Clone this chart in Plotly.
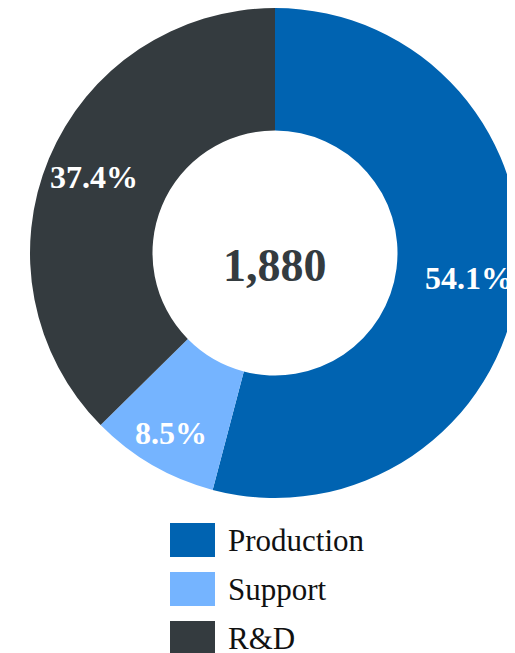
import math
import plotly.graph_objects as go

# ---- data ----
categories = ["Production", "Support", "R&D"]
values = [1017, 160, 703]
colors = ["#0063b1", "#75b4ff", "#343b3f"]
total_label = f"{sum(values):,}"

# ---- style ----
W, H = 522, 653
FONT = "Liberation Serif"
OFF = 8  # page body margin compensation
label_radius = [0.80, 0.85, 0.80]  # label distance from centre, fraction of outer radius

# pie geometry in figure pixels (center and radius)
cx, cy, R = 275 - OFF, 253 - OFF, 245

fig = go.Figure()
fig.add_trace(go.Pie(
    labels=categories,
    values=values,
    hole=0.5,
    sort=False,
    direction="clockwise",
    rotation=0,
    marker=dict(colors=colors, line=dict(width=0)),
    textinfo="none",
    showlegend=False,
    hoverinfo="label+value+percent",
    domain=dict(x=[(cx - R) / W, (cx + R) / W],
                y=[max(0, 1 - (cy + R) / H), min(1, 1 - (cy - R) / H)]),
))

# percentage labels, placed at each slice's mid-angle
total = sum(values)
cum = 0
for v, rf in zip(values, label_radius):
    mid = (cum + v / 2) / total * 2 * math.pi
    cum += v
    px = cx + rf * R * math.sin(mid)
    py = cy - rf * R * math.cos(mid)
    fig.add_annotation(
        text=f"{v / total:.1%}", x=px / W, y=1 - py / H,
        xref="paper", yref="paper", showarrow=False,
        xanchor="center", yanchor="middle",
        font=dict(family=FONT, size=32, color="white", weight="bold"),
    )

# center total
fig.add_annotation(
    text=total_label, x=cx / W, y=1 - cy / H, xref="paper", yref="paper",
    showarrow=False, yshift=-12,
    font=dict(family=FONT, size=46, color="#343b3f", weight="bold"),
)

# custom legend (large swatches)
sw_x0, sw_x1 = 170 - OFF, 215 - OFF
sw_h = 34
row_top0 = 523 - OFF
row_step = 49
text_x = 226 - OFF
for i, (cat, col) in enumerate(zip(categories, colors)):
    top = row_top0 + i * row_step
    fig.add_shape(type="rect", xref="paper", yref="paper",
                  x0=sw_x0 / W, x1=sw_x1 / W,
                  y0=1 - (top + sw_h) / H, y1=1 - top / H,
                  fillcolor=col, line=dict(width=0), layer="above")
    fig.add_annotation(text=cat, x=text_x / W, y=1 - (top + sw_h / 2) / H,
                       xref="paper", yref="paper", xanchor="left", yanchor="middle",
                       showarrow=False,
                       font=dict(family=FONT, size=31, color="#111111"))

fig.update_layout(
    width=W, height=H,
    margin=dict(l=0, r=0, t=0, b=0),
    paper_bgcolor="white", plot_bgcolor="white",
)

fig.write_html("out.html")
